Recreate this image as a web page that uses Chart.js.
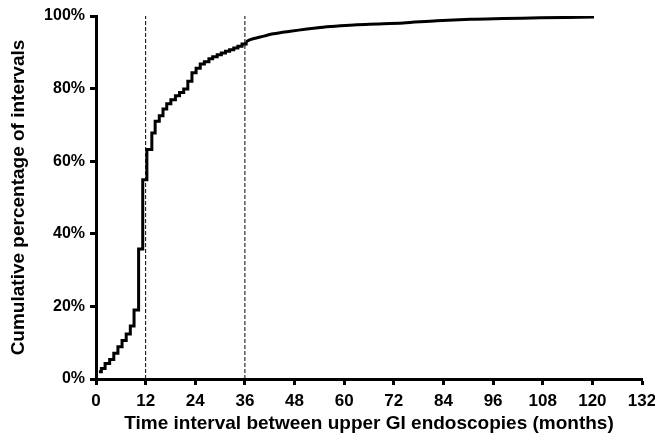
<!DOCTYPE html>
<html>
<head>
<meta charset="utf-8">
<script src="https://cdn.jsdelivr.net/npm/chart.js@4"></script>
<style>
  body { margin: 0; background: #fff; }
  #wrap { width: 655px; height: 436px; }
</style>
</head>
<body>
<div id="wrap"><canvas id="myChart"></canvas></div>
<script>
// months at which the cumulative curve steps up, and the value after each step (%)
const stepMonths = [0.7, 1.3, 2.2, 3.3, 4.3, 5.3, 6.3, 7.3, 8.3, 9.2, 10.3, 11.3, 12.3, 13.5, 14.3, 15.3, 16.2, 17.1, 18.1, 19.2, 20.2, 21.2, 22.2, 23.2, 24.2, 25.2, 26.2, 27.3, 28.2, 29.3, 30.3, 31.3, 32.3, 33.3, 34.3, 35.3, 36.3];
const stepValues = [2.0, 2.9, 4.3, 5.4, 7.1, 8.9, 10.6, 12.4, 14.6, 19.0, 35.8, 54.9, 63.2, 67.8, 71.0, 72.5, 74.4, 75.8, 76.9, 78.0, 78.9, 79.9, 82.0, 84.4, 85.6, 86.8, 87.4, 88.2, 88.8, 89.3, 89.8, 90.3, 90.7, 91.2, 91.7, 92.3, 92.9];

// tail of the curve after 36 months (fine steps, looks smooth)
const tailMonths = [36.3, 37.3, 39.7, 42.9, 47.0, 51.0, 54.9, 59.1, 63.1, 67.9, 74.3, 82.4, 90.5, 98.5, 107.4, 120.4];
const tailValues = [92.9, 93.5, 94.2, 95.1, 95.8, 96.4, 96.9, 97.3, 97.6, 97.8, 98.1, 98.7, 99.1, 99.3, 99.5, 99.7];

// reference lines
const refMonths = [12, 36];

const xTicks = [0, 12, 24, 36, 48, 60, 72, 84, 96, 108, 120, 132];
const yTicks = [0, 20, 40, 60, 80, 100];

const fontFam = "'Liberation Sans', Arial, sans-serif";

const toPts = (xs, ys) => xs.map((x, i) => ({x: x, y: ys[i]}));

const datasets = [{
    label: 'steps',
    data: toPts(stepMonths, stepValues),
    stepped: true,
    borderColor: '#000',
    borderWidth: 3,
    pointRadius: 0,
    fill: false
}, {
    label: 'tail',
    data: toPts(tailMonths, tailValues),
    borderColor: '#000',
    borderWidth: 3,
    pointRadius: 0,
    tension: 0.3,
    fill: false
}];
refMonths.forEach(m => {
    datasets.push({
        label: 'ref' + m,
        data: [{x: m, y: 0}, {x: m, y: 100}],
        borderColor: '#000',
        borderWidth: 1,
        borderDash: [4, 2],
        pointRadius: 0,
        fill: false
    });
});

const config = {
    type: 'line',
    data: { datasets: datasets },
    options: {
        responsive: true,
        maintainAspectRatio: false,
        animation: false,
        layout: { padding: { top: 16, right: 13, left: 0, bottom: 0 } },
        plugins: {
            legend: { display: false },
            tooltip: { enabled: false }
        },
        scales: {
            x: {
                type: 'linear',
                min: 0,
                max: 132,
                afterBuildTicks: s => { s.ticks = xTicks.map(v => ({value: v})); },
                afterFit: s => { s.height = 57; s.paddingLeft = 0; s.paddingRight = 0; },
                border: { display: true, color: '#000', width: 3 },
                grid: { drawOnChartArea: false, drawTicks: true, tickLength: 6, tickWidth: 3, tickColor: '#000' },
                ticks: { color: '#000', padding: 6, maxRotation: 0, font: { family: fontFam, size: 17, weight: 'bold' } },
                title: {
                    display: true,
                    text: 'Time interval between upper GI endoscopies (months)',
                    color: '#000',
                    padding: { top: 2, bottom: 1 },
                    font: { family: fontFam, size: 19, weight: 'bold' }
                }
            },
            y: {
                min: 0,
                max: 100,
                afterBuildTicks: s => { s.ticks = yTicks.map(v => ({value: v})); },
                afterFit: s => { s.width = 96; s.paddingTop = 0; s.paddingBottom = 0; },
                border: { display: true, color: '#000', width: 3 },
                grid: { drawOnChartArea: false, drawTicks: true, tickLength: 6, tickWidth: 3, tickColor: '#000' },
                ticks: {
                    color: '#000',
                    padding: 5,
                    callback: v => v + '%',
                    font: { family: fontFam, size: 16, weight: 'bold' }
                },
                title: {
                    display: true,
                    text: 'Cumulative percentage of intervals',
                    color: '#000',
                    padding: { top: 7, bottom: 0 },
                    font: { family: fontFam, size: 19, weight: 'bold' }
                }
            }
        }
    }
};

new Chart(document.getElementById('myChart'), config);
</script>
</body>
</html>
